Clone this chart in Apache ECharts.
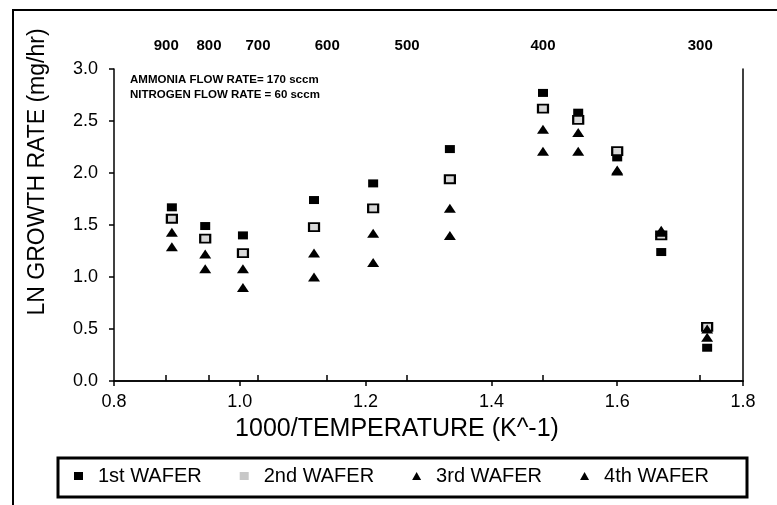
<!DOCTYPE html>
<html><head><meta charset="utf-8">
<script src="https://cdn.jsdelivr.net/npm/echarts@6/dist/echarts.min.js"></script>
<style>html,body{margin:0;padding:0;background:#fff}#c{width:777px;height:505px}</style>
</head><body><div id="c"></div>
<script>
// 1000/T positions of the measurements
const invTemp = [0.892, 0.945, 1.005, 1.118, 1.212, 1.334, 1.482, 1.538, 1.600, 1.670, 1.743];
// LN growth rate (mg/hr) per wafer
const wafer1 = [1.67, 1.49, 1.40, 1.74, 1.90, 2.23, 2.77, 2.58, 2.15, 1.24, 0.32];
const wafer2 = [1.56, 1.37, 1.23, 1.48, 1.66, 1.94, 2.62, 2.51, 2.21, 1.40, 0.52];
const wafer3 = [1.43, 1.22, 1.08, 1.23, 1.42, 1.66, 2.42, 2.39, 2.03, 1.45, 0.50];
const wafer4 = [1.29, 1.08, 0.90, 1.00, 1.14, 1.40, 2.21, 2.21, 2.02, 1.43, 0.42];
const seriesNames = ['1st WAFER', '2nd WAFER', '3rd WAFER', '4th WAFER'];
// top (temperature) axis
const topTickPos = [0.883, 0.951, 1.029, 1.139, 1.266, 1.482, 1.732];
const topTickLabels = ['900', '800', '700', '600', '500', '400', '300'];
const notes = ['AMMONIA FLOW RATE= 170 sccm', 'NITROGEN FLOW RATE = 60 sccm'];
const xTitle = '1000/TEMPERATURE (K^-1)';
const yTitle = 'LN GROWTH RATE (mg/hr)';

const FONT = '"Liberation Sans", Arial, sans-serif';
const pts = arr => arr.map((v, i) => [invTemp[i], v]);

const chart = echarts.init(document.getElementById('c'), null, {renderer: 'canvas'});
const axisLine = {show: true, lineStyle: {color: '#000', width: 1.5}};
chart.setOption({
  backgroundColor: '#fff',
  animation: false,
  grid: {left: 114, right: 34, top: 69, bottom: 124, containLabel: false},
  xAxis: [{
    type: 'value', min: 0.8, max: 1.8, interval: 0.2, position: 'bottom',
    axisLine: axisLine,
    axisTick: {show: true, inside: false, length: 5, lineStyle: {color: '#000', width: 1.5}},
    splitLine: {show: false},
    axisLabel: {color: '#000', fontFamily: FONT, fontSize: 18, margin: 12,
      formatter: v => v.toFixed(1)}
  }, {
    type: 'value', min: 0.8, max: 1.8, position: 'top',
    axisLine: axisLine,
    axisTick: {show: true, inside: false, length: 6, customValues: topTickPos,
      lineStyle: {color: '#000', width: 1.5}},
    splitLine: {show: false},
    axisLabel: {color: '#000', fontFamily: FONT, fontSize: 15, fontWeight: 'bold', margin: 16,
      customValues: topTickPos,
      formatter: v => {
        let best = 0;
        topTickPos.forEach((p, i) => { if (Math.abs(p - v) < Math.abs(topTickPos[best] - v)) best = i; });
        return topTickLabels[best];
      }}
  }],
  yAxis: [{
    type: 'value', min: 0, max: 3, interval: 0.5, position: 'left',
    axisLine: axisLine,
    axisTick: {show: true, inside: false, length: 5, lineStyle: {color: '#000', width: 1.5}},
    splitLine: {show: false},
    axisLabel: {color: '#000', fontFamily: FONT, fontSize: 18, margin: 16,
      formatter: v => v.toFixed(1)}
  }, {
    type: 'value', min: 0, max: 3, position: 'right',
    axisLine: axisLine, axisTick: {show: false}, axisLabel: {show: false}, splitLine: {show: false}
  }],
  legend: {
    left: 74, top: 466, padding: 0, itemGap: 38, itemWidth: 9, itemHeight: 8,
    textStyle: {color: '#000', fontFamily: FONT, fontSize: 20, padding: [0, 0, 0, 10]},
    data: [
      {name: seriesNames[0], icon: 'rect', itemStyle: {color: '#000', borderWidth: 0}},
      {name: seriesNames[1], icon: 'rect', itemStyle: {color: '#c8c8c8', borderWidth: 0}},
      {name: seriesNames[2], icon: 'triangle', itemStyle: {color: '#000', borderWidth: 0}},
      {name: seriesNames[3], icon: 'triangle', itemStyle: {color: '#000', borderWidth: 0}}
    ]
  },
  series: [
    {name: seriesNames[0], type: 'scatter', data: pts(wafer1), symbol: 'rect', symbolSize: [10, 8],
      itemStyle: {color: '#000', opacity: 1}},
    {name: seriesNames[1], type: 'scatter', data: pts(wafer2), symbol: 'rect', symbolSize: [10, 8],
      itemStyle: {color: '#d8d8d8', borderColor: '#000', borderWidth: 2, opacity: 1}},
    {name: seriesNames[2], type: 'scatter', data: pts(wafer3), symbol: 'triangle', symbolSize: [12, 9],
      itemStyle: {color: '#000', opacity: 1}},
    {name: seriesNames[3], type: 'scatter', data: pts(wafer4), symbol: 'triangle', symbolSize: [12, 9],
      itemStyle: {color: '#000', opacity: 1}}
  ],
  graphic: [
    {type: 'rect', shape: {x: 13, y: 10, width: 900, height: 700}, silent: true,
      style: {fill: 'none', stroke: '#000', lineWidth: 2}},
    {type: 'rect', shape: {x: 58, y: 458, width: 689, height: 39}, silent: true,
      style: {fill: 'none', stroke: '#000', lineWidth: 3}},
    {type: 'text', x: 130, y: 80, silent: true,
      style: {text: notes[0], fill: '#000', font: 'bold 11.5px ' + FONT, textVerticalAlign: 'middle'}},
    {type: 'text', x: 130, y: 95, silent: true,
      style: {text: notes[1], fill: '#000', font: 'bold 11.5px ' + FONT, textVerticalAlign: 'middle'}},
    {type: 'text', x: 397, y: 429, silent: true,
      style: {text: xTitle, fill: '#000', font: '25px ' + FONT, textAlign: 'center', textVerticalAlign: 'middle'}},
    {type: 'text', x: 38, y: 172, rotation: Math.PI / 2, silent: true,
      style: {text: yTitle, fill: '#000', font: '23px ' + FONT, textAlign: 'center', textVerticalAlign: 'middle'}}
  ]
});
</script>
</body></html>
